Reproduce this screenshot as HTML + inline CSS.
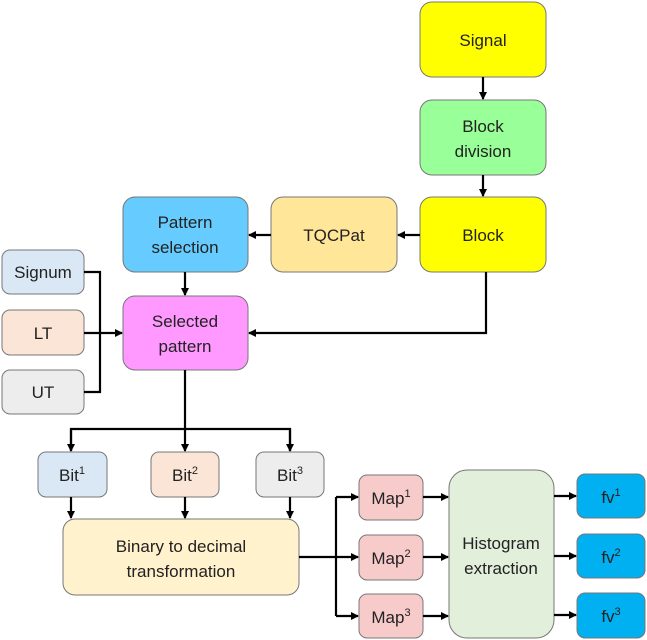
<!DOCTYPE html>
<html><head><style>html,body{margin:0;padding:0;background:#fff}svg{display:block}</style></head>
<body>
<svg width="647" height="640" viewBox="0 0 647 640" xmlns="http://www.w3.org/2000/svg" font-family="Liberation Sans, sans-serif" font-size="17" fill="#222">
<defs><marker id="a" markerWidth="8" markerHeight="8" refX="7" refY="4" orient="auto" markerUnits="userSpaceOnUse"><path d="M0,0 L8,4 L0,8 z" fill="#000"/></marker></defs>
<g stroke="#777" stroke-width="1">
<rect x="420" y="2" width="126" height="75" rx="12" fill="#ffff00"/>
<rect x="420" y="100" width="126" height="75" rx="12" fill="#99ff99"/>
<rect x="420" y="197" width="126" height="75" rx="12" fill="#ffff00"/>
<rect x="271" y="197" width="126" height="75" rx="12" fill="#ffe699"/>
<rect x="123" y="197" width="125" height="75" rx="12" fill="#66ccff"/>
<rect x="123" y="296" width="125" height="74" rx="12" fill="#ff99ff"/>
<rect x="2" y="250" width="82" height="44" rx="8" fill="#dae8f5"/>
<rect x="2" y="310" width="82" height="45" rx="8" fill="#fbe5d6"/>
<rect x="2" y="370" width="82" height="44" rx="8" fill="#ededed"/>
<rect x="38" y="452" width="69" height="45" rx="8" fill="#dae8f5"/>
<rect x="151" y="452" width="68" height="45" rx="8" fill="#fbe5d6"/>
<rect x="256" y="452" width="68" height="45" rx="8" fill="#ededed"/>
<rect x="63" y="519" width="236" height="76" rx="12" fill="#fff2cc"/>
<rect x="359" y="475" width="64" height="45" rx="8" fill="#f8cbcb"/>
<rect x="359" y="535" width="64" height="45" rx="8" fill="#f8cbcb"/>
<rect x="359" y="594" width="64" height="44" rx="8" fill="#f8cbcb"/>
<rect x="449" y="470" width="105" height="168" rx="18" fill="#e2efda"/>
<rect x="577" y="474" width="68" height="44" rx="8" fill="#00b0f0"/>
<rect x="577" y="534" width="68" height="44" rx="8" fill="#00b0f0"/>
<rect x="577" y="593" width="68" height="45" rx="8" fill="#00b0f0"/>
</g>
<g stroke="#000" stroke-width="2.2" fill="none">
<path d="M483,77 V99" marker-end="url(#a)"/>
<path d="M483,175 V196" marker-end="url(#a)"/>
<path d="M420,235 H398" marker-end="url(#a)"/>
<path d="M271,235 H249" marker-end="url(#a)"/>
<path d="M185,272 V295" marker-end="url(#a)"/>
<path d="M486,272 V333 H249" marker-end="url(#a)"/>
<path d="M84,272 H100 V392 H84"/>
<path d="M84,333 H122" marker-end="url(#a)"/>
<path d="M185,370 V429"/>
<path d="M71,451 V429 H290 V451"/>
<path d="M71,429 V451" marker-end="url(#a)"/>
<path d="M185,429 V451" marker-end="url(#a)"/>
<path d="M290,429 V451" marker-end="url(#a)"/>
<path d="M71,497 V518" marker-end="url(#a)"/>
<path d="M185,497 V518" marker-end="url(#a)"/>
<path d="M290,497 V518" marker-end="url(#a)"/>
<path d="M299,557 H336"/>
<path d="M336,497 V616"/>
<path d="M336,497 H358" marker-end="url(#a)"/>
<path d="M336,557 H358" marker-end="url(#a)"/>
<path d="M336,616 H358" marker-end="url(#a)"/>
<path d="M423,497 H448" marker-end="url(#a)"/>
<path d="M423,557 H448" marker-end="url(#a)"/>
<path d="M423,616 H448" marker-end="url(#a)"/>
<path d="M554,496 H576" marker-end="url(#a)"/>
<path d="M554,556 H576" marker-end="url(#a)"/>
<path d="M554,615 H576" marker-end="url(#a)"/>
</g>
<g text-anchor="middle">
<text x="483" y="46">Signal</text>
<text x="483" y="132">Block</text><text x="483" y="157">division</text>
<text x="483" y="241">Block</text>
<text x="334" y="241">TQCPat</text>
<text x="185" y="228">Pattern</text><text x="185" y="253">selection</text>
<text x="185" y="327">Selected</text><text x="185" y="352">pattern</text>
<text x="43" y="278">Signum</text>
<text x="43" y="339">LT</text>
<text x="43" y="398">UT</text>
<text x="72" y="481">Bit<tspan font-size="11" dy="-7">1</tspan></text>
<text x="185" y="481">Bit<tspan font-size="11" dy="-7">2</tspan></text>
<text x="290" y="481">Bit<tspan font-size="11" dy="-7">3</tspan></text>
<text x="181" y="552">Binary to decimal</text><text x="181" y="577">transformation</text>
<text x="391" y="504">Map<tspan font-size="11" dy="-7">1</tspan></text>
<text x="391" y="564">Map<tspan font-size="11" dy="-7">2</tspan></text>
<text x="391" y="623">Map<tspan font-size="11" dy="-7">3</tspan></text>
<text x="501" y="549">Histogram</text><text x="501" y="574">extraction</text>
<text x="611" y="503">fv<tspan font-size="11" dy="-7">1</tspan></text>
<text x="611" y="563">fv<tspan font-size="11" dy="-7">2</tspan></text>
<text x="611" y="622">fv<tspan font-size="11" dy="-7">3</tspan></text>
</g>
</svg>
</body></html>
